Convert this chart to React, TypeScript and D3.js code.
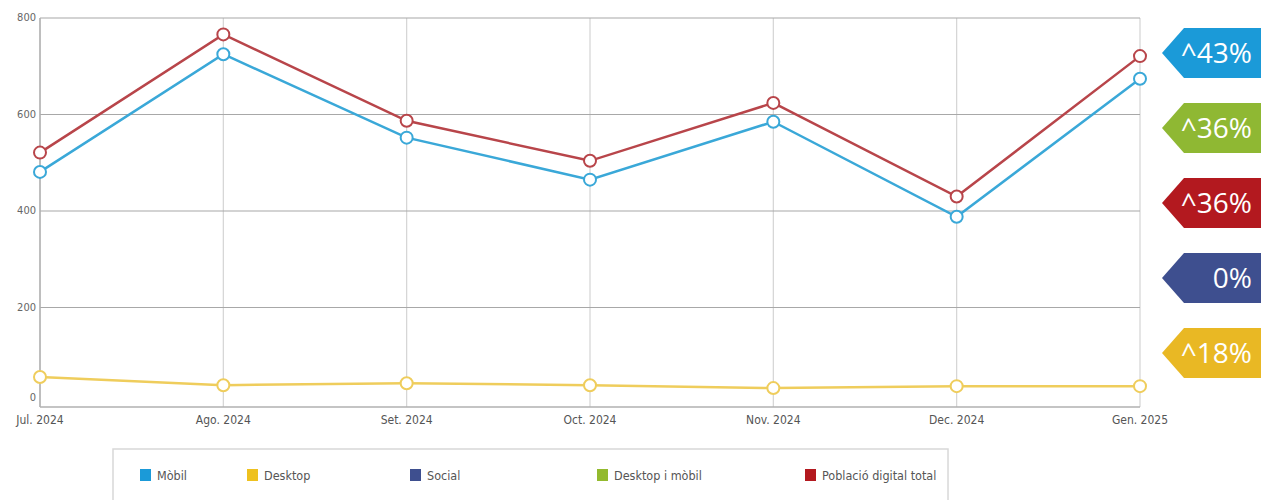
import React from "react";
import * as d3 from "d3";

const months = ["Jul. 2024", "Ago. 2024", "Set. 2024", "Oct. 2024", "Nov. 2024", "Dec. 2024", "Gen. 2025"];
const mobil = [481, 725, 552, 465, 585, 388, 674];
const desktop = [56, 39, 43, 39, 33, 37, 37];
const poblacio = [521, 766, 587, 504, 624, 430, 721];
const yTicks = [0, 200, 400, 600, 800];
const tagLabels = ["^43%", "^36%", "^36%", "0%", "^18%"];
const tagColors = ["#1b9ad8", "#8fb833", "#b3191f", "#3e4f8f", "#e9b824"];
const legendLabels = ["Mòbil", "Desktop", "Social", "Desktop i mòbil", "Població digital total"];
const legendColors = ["#1b9ad8", "#eec11f", "#3e4f8f", "#93ba2e", "#b3191f"];

const W = 1261, H = 500;
const font = "'Liberation Sans Narrow', 'DejaVu Sans Condensed', 'Open Sans', sans-serif";

export default function App() {
  const x = d3.scalePoint<string>().domain(months).range([40, 1140]);
  const y = d3.scaleLinear().domain([0, 800]).range([404, 18]);
  const line = d3.line<number>().x((_, i) => x(months[i])!).y((d) => y(d));
  const series = [
    { vals: desktop, color: "#efcd5c" },
    { vals: mobil, color: "#3aa8d8" },
    { vals: poblacio, color: "#b8454a" },
  ];
  const tagY = d3.scaleBand<number>().domain(d3.range(tagLabels.length)).range([28, 378]).paddingInner(1 / 3).paddingOuter(0);
  const legendX = [140, 247, 410, 597, 805];
  return (
    <svg width={W} height={H} style={{ position: "absolute", left: 0, top: 0, background: "#fff" }}>
      <rect x={0} y={0} width={W} height={H} fill="#fff" />
      {months.map((m) => (
        <line key={m} x1={x(m)} x2={x(m)} y1={18} y2={407} stroke="#d4d4d4" strokeWidth={1.2} />
      ))}
      {yTicks.filter((t) => t > 0).map((t) => (
        <line key={t} x1={40} x2={1140} y1={y(t)} y2={y(t)} stroke="#a8a8a8" strokeWidth={1.2} />
      ))}
      <line x1={40} x2={40} y1={18} y2={407} stroke="#b0b0b0" strokeWidth={1.5} />
      <line x1={40} x2={1140} y1={407} y2={407} stroke="#b0b0b0" strokeWidth={1.5} />
      {yTicks.map((t) => (
        <text key={t} x={36} y={y(t) + (t === 0 ? -3 : 3)} textAnchor="end" fontFamily={font} fontSize={11} fill="#666">{t}</text>
      ))}
      {months.map((m) => (
        <text key={m} x={x(m)} y={424} textAnchor="middle" fontFamily={font} fontSize={12} fill="#555">{m}</text>
      ))}
      {series.map((s, si) => (
        <g key={si}>
          <path d={line(s.vals)!} fill="none" stroke={s.color} strokeWidth={2.5} />
          {s.vals.map((v, i) => (
            <circle key={i} cx={x(months[i])} cy={y(v)} r={6} fill="#fff" stroke={s.color} strokeWidth={2} />
          ))}
        </g>
      ))}
      {tagLabels.map((lab, i) => {
        const t = tagY(i)!;
        const h = tagY.bandwidth();
        const x0 = 1162, xb = 1184;
        const d = `M${x0},${t + h / 2} L${xb},${t} L${W},${t} L${W},${t + h} L${xb},${t + h} Z`;
        return (
          <g key={i}>
            <path d={d} fill={tagColors[i]} />
            <text x={1252} y={t + h / 2 + 10} textAnchor="end" fontFamily="'Open Sans', sans-serif" fontSize={28} fill="#fff">{lab}</text>
          </g>
        );
      })}
      <rect x={113} y={449} width={835} height={60} fill="#fff" stroke="#d8d8d8" strokeWidth={1.5} />
      {legendLabels.map((lab, i) => (
        <g key={lab}>
          <rect x={legendX[i]} y={469} width={11} height={12} fill={legendColors[i]} />
          <text x={legendX[i] + 17} y={480} fontFamily={font} fontSize={12.5} fill="#555">{lab}</text>
        </g>
      ))}
    </svg>
  );
}
